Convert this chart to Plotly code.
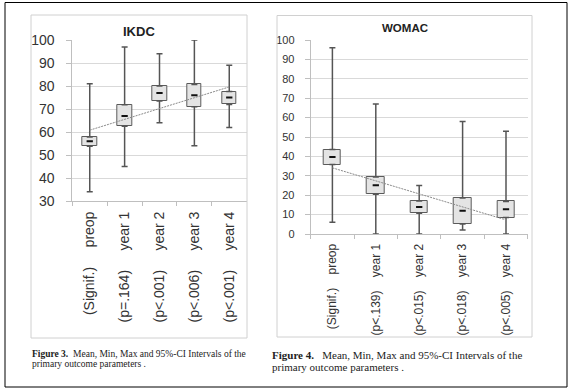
import numpy as np
import plotly.graph_objects as go

# ---------------- data ----------------
categories = ["preop", "year 1", "year 2", "year 3", "year 4"]

ikdc_sig = ["(Signif.)", "(p=.164)", "(p<.001)", "(p<.006)", "(p<.001)"]
ikdc_mean = [56, 67, 77, 76, 75]
ikdc_ci_low = [53.8, 62.5, 73.5, 71, 72]
ikdc_ci_high = [57.8, 71.8, 80, 80.7, 77.6]
ikdc_min = [34, 45, 64, 54, 62]
ikdc_max = [81, 97, 94, 100, 89]

womac_sig = ["(Signif.)", "(p<.139)", "(p<.015)", "(p<.018)", "(p<.005)"]
womac_mean = [39.7, 25.1, 13.9, 12, 12.7]
womac_ci_low = [35.8, 20.5, 10.7, 5.2, 8.5]
womac_ci_high = [43.5, 29.4, 17, 18.6, 16.8]
womac_min = [6, 0, 0, 2, 0]
womac_max = [96, 67, 25, 58, 53]

ikdc_yticks = [30, 40, 50, 60, 70, 80, 90, 100]
womac_yticks = [0, 10, 20, 30, 40, 50, 60, 70, 80, 90, 100]

W, H = 573, 392
def px(x):
    return x / W
def py(y):
    return 1 - y / H

BOX_FILL = "#e4e4e4"
BOX_LINE = "#5a5a5a"
WHISK = "#555555"
GRID = "#d9d9d9"
AXIS = "#bfbfbf"
TXT = "#333333"
FONT = "Liberation Sans"


def add_panel(fig, xref, yref, mean, lo, hi, mn, mx, box_w, cap):
    # boxes (95% CI)
    fig.add_trace(go.Bar(
        x=categories, base=lo, y=[h - l for h, l in zip(hi, lo)],
        width=box_w, marker=dict(color=BOX_FILL, line=dict(color=BOX_LINE, width=1)),
        xaxis=xref, yaxis=yref, showlegend=False, hoverinfo="skip"))
    # upper whisker
    fig.add_trace(go.Scatter(
        x=categories, y=hi, mode="markers", marker=dict(size=1, color="rgba(0,0,0,0)"),
        error_y=dict(type="data", symmetric=False, array=[m - h for m, h in zip(mx, hi)],
                     arrayminus=[0] * len(hi), color=WHISK, thickness=1.5, width=cap),
        xaxis=xref, yaxis=yref, showlegend=False, hoverinfo="skip"))
    # lower whisker
    fig.add_trace(go.Scatter(
        x=categories, y=lo, mode="markers", marker=dict(size=1, color="rgba(0,0,0,0)"),
        error_y=dict(type="data", symmetric=False, array=[0] * len(lo),
                     arrayminus=[l - m for l, m in zip(lo, mn)], color=WHISK, thickness=1.5, width=cap),
        xaxis=xref, yaxis=yref, showlegend=False, hoverinfo="skip"))
    # linear trend line of the means
    xs = np.arange(len(mean))
    k, b = np.polyfit(xs, mean, 1)
    fig.add_trace(go.Scatter(
        x=categories, y=list(k * xs + b), mode="lines",
        line=dict(color="#8a8a8a", width=1, dash="2px,1px"),
        xaxis=xref, yaxis=yref, showlegend=False, hoverinfo="skip"))
    # mean marks
    fig.add_trace(go.Scatter(
        x=categories, y=mean, mode="markers",
        marker=dict(symbol="line-ew", size=4.5, line=dict(color="#111111", width=2)),
        xaxis=xref, yaxis=yref, showlegend=False, hoverinfo="skip"))


fig = go.Figure()
add_panel(fig, "x", "y", ikdc_mean, ikdc_ci_low, ikdc_ci_high, ikdc_min, ikdc_max, 0.42, 3)
add_panel(fig, "x2", "y2", womac_mean, womac_ci_low, womac_ci_high, womac_min, womac_max, 0.40, 3)

NB = "\u00a0"
ikdc_ticktext = [s + NB * 5 + c for s, c in zip(ikdc_sig, categories)]
womac_ticktext = [s + NB * 4 + c for s, c in zip(womac_sig, categories)]

common_x = dict(type="category", tickson="boundaries", ticks="outside", ticklen=4,
                tickcolor=AXIS, showgrid=False, showline=True, linecolor=AXIS, linewidth=1,
                tickangle=-90, zeroline=False, categoryorder="array", categoryarray=categories)
common_y = dict(ticks="outside", ticklen=5, tickcolor=AXIS, showgrid=True, gridcolor=GRID,
                gridwidth=1, showline=True, linecolor=AXIS, linewidth=1, zeroline=False)

fig.update_layout(
    width=W, height=H, margin=dict(l=0, r=0, t=0, b=0, autoexpand=False),
    paper_bgcolor="white", plot_bgcolor="white",
    font=dict(family=FONT, color=TXT),
    xaxis=dict(domain=[px(72.3), px(246.7)], anchor="y", tickvals=categories, ticktext=ikdc_ticktext,
               tickfont=dict(size=14, color=TXT), ticklabelstandoff=4, **common_x),
    yaxis=dict(domain=[py(201), py(40)], anchor="x", range=[30, 100], tickvals=ikdc_yticks,
               tickfont=dict(size=14, color=TXT), ticklabelstandoff=9, **common_y),
    xaxis2=dict(domain=[px(310.7), px(527.7)], anchor="y2", tickvals=categories, ticktext=womac_ticktext,
                tickfont=dict(size=12, color=TXT), ticklabelstandoff=4, **common_x),
    yaxis2=dict(domain=[py(234), py(40)], anchor="x2", range=[0, 100], tickvals=womac_yticks,
                tickfont=dict(size=11, color=TXT), ticklabelstandoff=8, **common_y),
    bargap=0,
)

shapes = [
    # outer frame
    dict(type="rect", xref="paper", yref="paper", x0=px(5), x1=px(567), y0=py(387), y1=py(2.5),
         line=dict(color="#000000", width=1)),
    # chart panels
    dict(type="rect", xref="paper", yref="paper", x0=px(31), x1=px(247), y0=py(338), y1=py(15),
         line=dict(color="#d0d0d0", width=1)),
    dict(type="rect", xref="paper", yref="paper", x0=px(277), x1=px(532), y0=py(337), y1=py(15.5),
         line=dict(color="#d0d0d0", width=1)),
]
fig.update_layout(shapes=shapes)

SERIF = "Liberation Serif"
ann = [
    dict(text="<b>IKDC</b>", x=px(139), y=py(31), font=dict(size=13, color="#222", family=FONT),
         xanchor="center", yanchor="middle"),
    dict(text="<b>WOMAC</b>", x=px(404.7), y=py(28), font=dict(size=11.5, color="#222", family=FONT),
         xanchor="center", yanchor="middle"),
    dict(text="<b>Figure 3.</b>  Mean, Min, Max and 95%-CI Intervals of the", x=px(30), y=py(354),
         font=dict(size=9.5, color="#222", family=SERIF), xanchor="left", yanchor="middle"),
    dict(text="primary outcome parameters .", x=px(30), y=py(364),
         font=dict(size=9.5, color="#222", family=SERIF), xanchor="left", yanchor="middle"),
    dict(text="<b>Figure 4.</b>   Mean, Min, Max and 95%-CI Intervals of the", x=px(270), y=py(355),
         font=dict(size=11, color="#222", family=SERIF), xanchor="left", yanchor="middle"),
    dict(text="primary outcome parameters .", x=px(270), y=py(367),
         font=dict(size=11, color="#222", family=SERIF), xanchor="left", yanchor="middle"),
]
for a in ann:
    a.update(xref="paper", yref="paper", showarrow=False)
fig.update_layout(annotations=ann)

fig.write_html("out.html", config={"displayModeBar": False},
               post_script="document.body.style.margin='0';document.body.style.overflow='hidden';")
